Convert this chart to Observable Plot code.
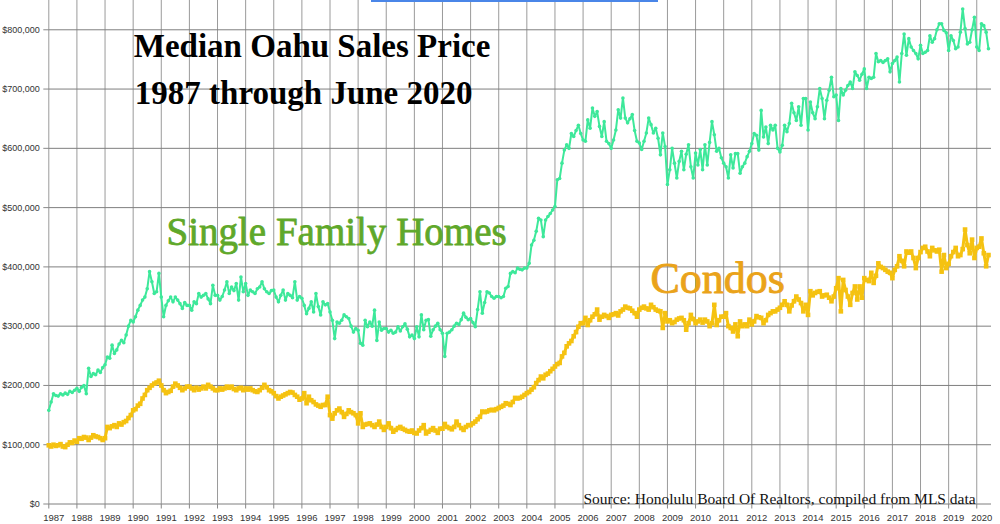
<!DOCTYPE html>
<html><head><meta charset="utf-8">
<script src="https://cdn.jsdelivr.net/npm/d3@7"></script>
<script src="https://cdn.jsdelivr.net/npm/@observablehq/plot@0.6"></script>
<style>
body{margin:0;background:#fff;overflow:hidden}
#wrap{position:relative;width:1000px;height:524px}
#bar{position:absolute;left:371px;top:0;width:287px;height:1.5px;background:#4a86e8}
</style>
</head><body><div id="wrap"></div>
<script>
// Tick values
const yearTicks = d3.range(1987, 2021);
const priceTicks = [0, 100, 200, 300, 400, 500, 600, 700, 800]; // thousands of dollars

// Median single family home price, monthly Jan 1987 - Jun 2020 (thousands $)
const sfh = [
158,172,186,183,182,186,184,187,185,190,188,192,
195,190,197,200,186,229,215,220,218,226,222,230,
235,248,246,268,254,260,270,276,272,285,300,310,
307,316,327,335,344,349,363,392,375,355,358,389,
349,316,335,343,349,341,349,344,338,330,340,335,
335,327,341,338,355,349,352,355,346,338,369,352,
352,344,350,361,375,355,366,360,372,344,383,358,
372,352,361,358,355,363,366,375,363,358,355,360,
361,349,341,352,361,344,355,352,348,375,344,350,
347,335,321,330,341,324,355,333,319,341,336,338,
324,310,279,307,305,310,319,316,313,300,290,296,
293,271,268,310,299,307,300,327,276,307,293,296,
296,290,293,288,290,299,292,299,304,295,282,285,
279,299,282,319,294,310,311,283,294,300,305,294,
288,249,288,290,294,300,305,303,311,322,315,311,
313,306,299,328,358,322,340,358,356,350,347,350,
350,348,350,364,367,389,392,390,398,396,395,398,
398,406,437,445,460,482,479,451,479,485,490,496,
502,547,549,575,597,606,600,625,620,630,639,625,
614,612,648,634,668,654,662,637,620,645,612,608,
600,614,631,665,651,685,651,643,650,657,630,612,
609,598,612,626,651,640,626,634,617,589,626,603,
539,564,600,575,550,578,595,564,590,606,569,550,
592,572,598,564,606,572,610,645,623,595,600,584,
575,569,550,589,567,591,591,558,569,575,586,595,
608,625,622,597,664,619,636,608,639,631,639,600,
594,605,639,628,642,676,660,647,670,639,684,684,
631,678,660,650,670,701,684,650,681,698,720,687,
690,647,701,690,698,706,712,701,729,723,715,725,
734,701,720,718,720,760,746,748,745,748,751,729,
743,748,754,712,760,793,757,785,771,765,760,751,
774,760,762,765,790,779,785,800,810,810,799,795,
765,790,782,768,771,796,835,802,776,779,800,821,
771,765,810,807,796,768
];

// Median condo price, monthly Jan 1987 - Jun 2020 (thousands $)
const condo = [
99,97,100,98,99,101,97,96,100,104,103,107,
105,111,110,113,112,108,112,116,114,113,111,108,
111,130,128,131,133,130,136,134,138,140,145,150,
158,160,166,169,178,184,192,196,200,203,205,208,
200,192,187,189,191,198,203,200,196,192,195,198,
198,195,192,196,193,195,198,195,201,198,195,192,
192,195,193,195,198,196,198,194,192,195,196,192,
195,193,195,192,190,189,192,196,201,197,192,190,
187,182,178,181,183,185,187,189,188,184,181,176,
178,187,170,181,175,172,168,166,164,167,167,181,
150,144,153,158,161,155,147,152,158,155,153,150,
136,153,130,134,135,136,133,130,134,139,130,125,
130,136,128,122,125,128,130,127,125,123,122,124,
120,119,124,128,133,119,122,125,128,124,120,127,
127,135,130,128,126,130,139,133,128,125,130,133,
133,136,139,143,147,156,155,156,158,159,158,160,
162,164,166,170,169,167,172,179,178,179,181,184,
187,189,193,197,204,209,215,212,218,220,224,228,
232,236,238,249,255,266,271,275,283,290,299,305,
305,314,302,310,316,320,328,311,316,319,317,314,
319,320,322,318,325,328,333,331,330,326,322,316,
328,331,333,330,328,336,332,328,326,325,297,322,
308,310,305,307,311,313,314,310,294,305,319,312,
305,308,311,306,311,308,300,305,336,302,310,316,
316,322,300,297,291,303,283,308,300,303,300,311,
303,308,317,315,314,305,310,319,322,325,325,328,
331,336,342,336,325,335,342,350,345,339,325,336,
319,359,352,356,358,359,350,352,353,348,342,350,
364,381,325,378,361,350,336,356,367,345,367,348,
381,378,376,390,373,385,406,400,398,395,392,390,
381,395,401,418,410,401,426,424,426,415,398,415,
425,432,434,426,418,432,428,426,429,392,420,398,
405,418,425,432,418,420,430,463,437,423,446,415,
432,434,448,423,401,420
];

const rows = sfh.map((v, i) => ({t: 1987 + i / 12, sfh: v, condo: condo[i]}));
const fmtPrice = d => "$" + d3.format(",")(d * 1000);
const serif = "'Liberation Serif', 'Times New Roman', serif";
const sfhColor = "#3de89a";
const condoColor = "#f5c211";
const sfhLabelColor = "#5fa82a";
const condoLabelColor = "#eaa31a";

const chart = Plot.plot({
  width: 1000,
  height: 524,
  marginLeft: 48.3,
  marginRight: 9,
  marginTop: 0,
  marginBottom: 20.5,
  style: {background: "#fff", fontFamily: "'Liberation Sans', Arial, sans-serif", overflow: "visible"},
  x: {type: "linear", domain: [1987, 2020.524]},
  y: {domain: [0, 849.4]},
  marks: [
    Plot.gridX(yearTicks, {stroke: "#9a9a9a", strokeOpacity: 1}),
    Plot.gridY(priceTicks, {stroke: "#7f7f7f", strokeOpacity: 1}),
    Plot.axisX(yearTicks, {tickSize: 5, tickFormat: () => "", stroke: "#888", label: null}),
    Plot.text(yearTicks, {x: d => d, text: d => String(d), frameAnchor: "bottom", dy: 13.5, dx: 5, lineAnchor: "middle", fontSize: 9.5, fill: "#333"}),
    Plot.axisY(priceTicks, {tickSize: 5, tickPadding: 4, tickFormat: fmtPrice, fontSize: 9, stroke: "#888", fill: "#333", label: null}),
    Plot.line(rows, {x: "t", y: "condo", stroke: condoColor, strokeWidth: 3}),
    Plot.dot(rows, {x: "t", y: "condo", symbol: "square", r: 2.6, fill: condoColor}),
    Plot.line(rows, {x: "t", y: "sfh", stroke: sfhColor, strokeWidth: 2}),
    Plot.dot(rows, {x: "t", y: "sfh", r: 1.8, fill: sfhColor}),
    Plot.text(["Median Oahu Sales Price"], {frameAnchor: "top-left", dx: 85, dy: 56, lineAnchor: "bottom", textAnchor: "start", fontSize: 33, fontWeight: "bold", fontFamily: serif, fill: "#000"}),
    Plot.text(["1987 through June 2020"], {frameAnchor: "top-left", dx: 86, dy: 103, lineAnchor: "bottom", textAnchor: "start", fontSize: 33, fontWeight: "bold", fontFamily: serif, fill: "#000"}),
    Plot.text(["Single Family Homes"], {frameAnchor: "top-left", dx: 117.7, dy: 244.5, lineAnchor: "bottom", textAnchor: "start", fontSize: 39, fontFamily: serif, fill: sfhLabelColor, stroke: sfhLabelColor, strokeWidth: 0.8}),
    Plot.text(["Condos"], {frameAnchor: "top-left", dx: 601.7, dy: 292, lineAnchor: "bottom", textAnchor: "start", fontSize: 44, fontFamily: serif, fill: condoLabelColor, stroke: condoLabelColor, strokeWidth: 0.9}),
    Plot.text(["Source: Honolulu Board Of Realtors, compiled from MLS data"], {frameAnchor: "top-left", dx: 534.7, dy: 503, lineAnchor: "bottom", textAnchor: "start", fontSize: 15.5, fontFamily: serif, fill: "#111"})
  ]
});

const wrap = document.getElementById("wrap");
wrap.appendChild(chart);
const bar = document.createElement("div");
bar.id = "bar";
wrap.appendChild(bar);
</script>
</body></html>
